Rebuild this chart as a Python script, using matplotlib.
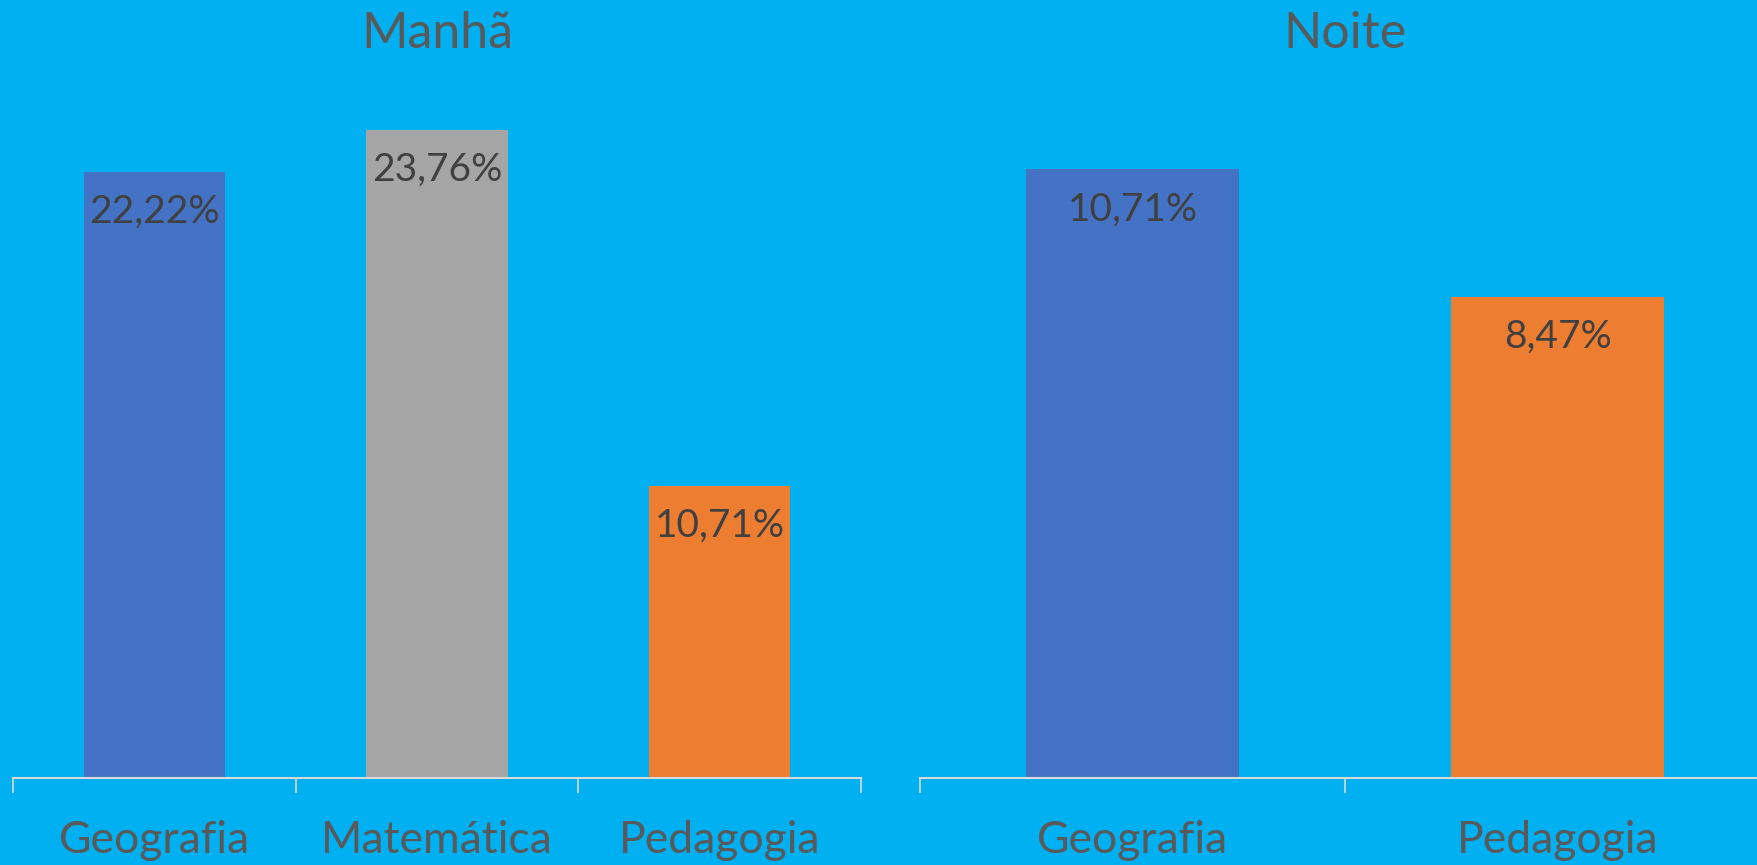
import matplotlib
matplotlib.use("Agg")
import matplotlib.pyplot as plt

# dados
titulos = ["Manhã", "Noite"]
cursos_manha = ["Geografia", "Matemática", "Pedagogia"]
valores_manha = [22.22, 23.76, 10.71]
cursos_noite = ["Geografia", "Pedagogia"]
valores_noite = [10.71, 8.47]

AZUL = "#4472C4"
CINZA = "#A5A5A5"
LARANJA = "#ED7D31"
cores_manha = [AZUL, CINZA, LARANJA]
cores_noite = [AZUL, LARANJA]
FUNDO = "#00B0F0"

plt.rcParams["font.family"] = ["Lato", "DejaVu Sans"]

fig = plt.figure(figsize=(17.57, 8.65), dpi=100, facecolor=FUNDO)
ax1 = fig.add_axes([13 / 1757, 1 - 778 / 865, 848 / 1757, 682 / 865])
ax2 = fig.add_axes([920 / 1757, 1 - 778 / 865, 850 / 1757, 682 / 865])


def desenha(ax, cursos, valores, cores, ymax, titulo):
    ax.set_facecolor(FUNDO)
    x = range(len(cursos))
    barras = ax.bar(x, valores, width=0.5, color=cores)
    ax.set_xlim(-0.5, len(cursos) - 0.5)
    ax.set_ylim(0, ymax)
    for s in ["top", "right", "left"]:
        ax.spines[s].set_visible(False)
    ax.spines["bottom"].set_color("#D9D9D9")
    ax.spines["bottom"].set_linewidth(1.5)
    ax.set_yticks([])
    ax.set_xticks([i - 0.5 for i in range(len(cursos) + 1)])
    ax.set_xticklabels([])
    ax.tick_params(axis="x", length=11, width=1.2, color="#D9D9D9", direction="out")
    for i, (b, v) in enumerate(zip(barras, valores)):
        ax.annotate(f"{v:.2f}%".replace(".", ","), (b.get_x() + b.get_width() / 2, v),
                    xytext=(0, -29), textcoords="offset points",
                    ha="center", va="center", fontsize=28, color="#404040")
        ax.text(i, -0.091, cursos[i], transform=ax.get_xaxis_transform(),
                ha="center", va="center", fontsize=32, color="#595959")
    ax.text(0.5, (778 - 34) / 682, titulo, transform=ax.transAxes,
            ha="center", va="center", fontsize=36, color="#595959")


desenha(ax1, cursos_manha, valores_manha, cores_manha, 25, titulos[0])
desenha(ax2, cursos_noite, valores_noite, cores_noite, 12, titulos[1])

fig.savefig("out.png", dpi=100, facecolor=FUNDO)
plt.close(fig)
